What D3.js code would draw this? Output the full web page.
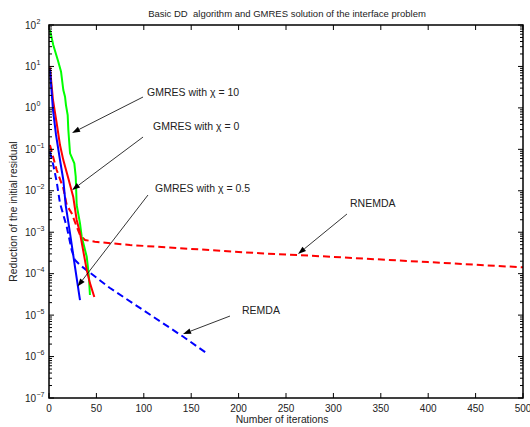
<!DOCTYPE html>
<meta charset="utf-8">
<style>
    body { margin: 0; background: #fff; }
    svg { font-family: 'Liberation Sans', Arial, Helvetica, sans-serif; }
</style>
<body>
<svg width="530" height="427" id="chart"></svg>
<script src="https://d3js.org/d3.v7.min.js"></script>
<script>

    // iterations / residual reduction
    var gmres10 = [[1, 75.7], [4.5, 32.9], [9.8, 13.0], [12.7, 7.46], [15.1, 2.70], [16.9, 1.86], [17.9, 1.17],
        [19.7, 0.673], [20.4, 0.292], [22.2, 0.080], [26.7, 0.046], [28.2, 0.0218], [29.2, 0.00453],
        [32.7, 1.64e-3], [34.5, 7.8e-4], [39.8, 2.56e-4], [42, 9e-5], [43.2, 3.05e-5]];
    var gmres0 = [[1, 9.5], [4.2, 1.55], [8.4, 0.386], [11.6, 0.127], [15.1, 0.055], [20.0, 0.0215],
        [25.6, 7.07e-3], [29.2, 1.97e-3], [32.7, 9.6e-4], [39.8, 1.22e-4], [43.2, 5.9e-5], [47.8, 2.73e-5]];
    var gmres05 = [[1, 8.5], [4.2, 0.89], [7.4, 0.222], [11.6, 0.0552], [15.1, 0.0182], [17.6, 4.53e-3],
        [22.2, 9.4e-4], [27.4, 1.47e-4], [32.7, 2.31e-5]];
    var rnemda = [[1, 0.127], [8.1, 0.0317], [15.1, 0.0115], [18.7, 4.53e-3], [23.9, 2.86e-3], [29.2, 1.36e-3],
        [32.7, 8.55e-4], [38, 6.48e-4], [48.5, 5.9e-4], [85.4, 4.91e-4], [222.6, 3.1e-4], [263, 2.82e-4],
        [400, 1.9e-4], [500, 1.42e-4]];
    var remda = [[1, 0.0877], [4.5, 0.0419], [8.1, 0.0166], [11.6, 4.98e-3], [18.7, 1.36e-3], [23.9, 3.72e-4],
        [27.4, 2.13e-4], [32.7, 1.61e-4], [55.6, 6.4e-5], [64.3, 4.5e-5], [141.7, 3.0e-6], [166.4, 1.2e-6]];

    var xTicks = [0, 50, 100, 150, 200, 250, 300, 350, 400, 450, 500];
    var yExponents = [-7, -6, -5, -4, -3, -2, -1, 0, 1, 2];

    // annotations: text anchor point, arrow tail, arrow head (data coords)
    var labels = ["GMRES with \u03c7 = 10", "GMRES with \u03c7 = 0", "GMRES with \u03c7 = 0.5", "RNEMDA", "REMDA"];
    var labelPos = [[103.4, 2.32], [109.7, 0.366], [111.8, 0.0115], [317.5, 4.98e-3], [203.6, 1.33e-5]];
    var arrowTail = [[99.2, 1.83], [99.2, 0.198], [104.4, 7.9e-3], [314.3, 2.75e-3], [190.9, 9.5e-6]];
    var arrowHead = [[24.3, 0.248], [24.3, 0.0104], [30.1, 4.9e-5], [262.7, 2.98e-4], [141.4, 3.5e-6]];

    var svg = d3.select("svg");

    var x = d3.scaleLinear().domain([0, 500]).range([49, 523]);
    var y = d3.scaleLog().domain([1e-7, 1e2]).range([398, 25]);

    var line = d3.line()
        .x(function(d) { return x(d[0]); })
        .y(function(d) { return y(d[1]); });

    var series = [
        {data: rnemda, color: "#ff0000", dash: "7,4"},
        {data: remda, color: "#0000ff", dash: "7,4"},
        {data: gmres10, color: "#00ff00", dash: null},
        {data: gmres0, color: "#ff0000", dash: null},
        {data: gmres05, color: "#0000ff", dash: null}
    ];

    svg.append("g").selectAll("path")
        .data(series)
        .enter().append("path")
        .attr("d", function(d) { return line(d.data); })
        .attr("fill", "none")
        .attr("stroke", function(d) { return d.color; })
        .attr("stroke-width", 2)
        .attr("stroke-dasharray", function(d) { return d.dash; });

    // box
    var x0 = x.range()[0], x1 = x.range()[1], y0 = y.range()[1], y1 = y.range()[0];
    svg.append("rect")
        .attr("x", x0).attr("y", y0)
        .attr("width", x1 - x0).attr("height", y1 - y0)
        .attr("fill", "none").attr("stroke", "#000").attr("stroke-width", 1.5);

    // x ticks, inward, bottom and top
    var xt = svg.append("g").attr("stroke", "#000").attr("stroke-width", 1);
    xTicks.forEach(function(t) {
        xt.append("line").attr("x1", x(t)).attr("x2", x(t)).attr("y1", y1).attr("y2", y1 - 5);
        xt.append("line").attr("x1", x(t)).attr("x2", x(t)).attr("y1", y0).attr("y2", y0 + 5);
    });
    svg.append("g").selectAll("text")
        .data(xTicks)
        .enter().append("text")
        .attr("x", function(d) { return x(d); })
        .attr("y", y1 + 13.5)
        .attr("text-anchor", "middle")
        .attr("font-size", "10px")
        .attr("fill", "#222")
        .text(function(d) { return d; });

    // y ticks, major + minor, left and right
    var yt = svg.append("g").attr("stroke", "#000").attr("stroke-width", 1);
    yExponents.forEach(function(e) {
        var v = Math.pow(10, e);
        yt.append("line").attr("x1", x0).attr("x2", x0 + 5).attr("y1", y(v)).attr("y2", y(v));
        yt.append("line").attr("x1", x1).attr("x2", x1 - 5).attr("y1", y(v)).attr("y2", y(v));
        if (e < 2) {
            for (var k = 2; k < 10; k++) {
                var yy = y(k * v);
                yt.append("line").attr("x1", x0).attr("x2", x0 + 3).attr("y1", yy).attr("y2", yy);
                yt.append("line").attr("x1", x1).attr("x2", x1 - 3).attr("y1", yy).attr("y2", yy);
            }
        }
    });

    svg.append("g").selectAll("text")
        .data(yExponents)
        .enter().append("text")
        .attr("x", 36)
        .attr("y", function(d) { return y(Math.pow(10, d)) + 3.5; })
        .attr("text-anchor", "end")
        .attr("font-size", "10px")
        .attr("fill", "#222")
        .text("10");
    svg.append("g").selectAll("text")
        .data(yExponents)
        .enter().append("text")
        .attr("x", 36.5)
        .attr("y", function(d) { return y(Math.pow(10, d)) - 1.5; })
        .attr("font-size", "7px")
        .attr("fill", "#222")
        .text(function(d) { return d < 0 ? "\u2212" + (-d) : d; });

    // titles
    svg.append("text")
        .attr("x", 287).attr("y", 16.5)
        .attr("text-anchor", "middle")
        .attr("font-size", "9.5px")
        .attr("fill", "#222")
        .style("white-space", "pre")
        .text("Basic DD  algorithm and GMRES solution of the interface problem");

    svg.append("text")
        .attr("x", 282).attr("y", 422.5)
        .attr("text-anchor", "middle")
        .attr("font-size", "10.3px")
        .attr("fill", "#222")
        .text("Number of iterations");

    svg.append("text")
        .attr("transform", "translate(17," + ((y0 + y1) / 2) + ") rotate(-90)")
        .attr("text-anchor", "middle")
        .attr("font-size", "10.3px")
        .attr("fill", "#222")
        .text("Reduction of the initial residual");

    // annotations
    var ann = svg.append("g");
    labels.forEach(function(l, i) {
        ann.append("text")
            .attr("x", x(labelPos[i][0]))
            .attr("y", y(labelPos[i][1]))
            .attr("dy", "0.35em")
            .attr("font-size", "10.5px")
            .attr("fill", "#222")
            .text(l);

        var tx = x(arrowTail[i][0]), ty = y(arrowTail[i][1]),
            hx = x(arrowHead[i][0]), hy = y(arrowHead[i][1]);
        var a = Math.atan2(hy - ty, hx - tx), len = 8, w = 2.8;
        var bx = hx - len * Math.cos(a), by = hy - len * Math.sin(a);
        ann.append("line")
            .attr("x1", tx).attr("y1", ty).attr("x2", bx).attr("y2", by)
            .attr("stroke", "#000").attr("stroke-width", 0.8);
        ann.append("path")
            .attr("d", "M" + hx + "," + hy +
                "L" + (bx - w * Math.sin(a)) + "," + (by + w * Math.cos(a)) +
                "L" + (bx + w * Math.sin(a)) + "," + (by - w * Math.cos(a)) + "Z")
            .attr("fill", "#000");
    });

</script>
</body>
